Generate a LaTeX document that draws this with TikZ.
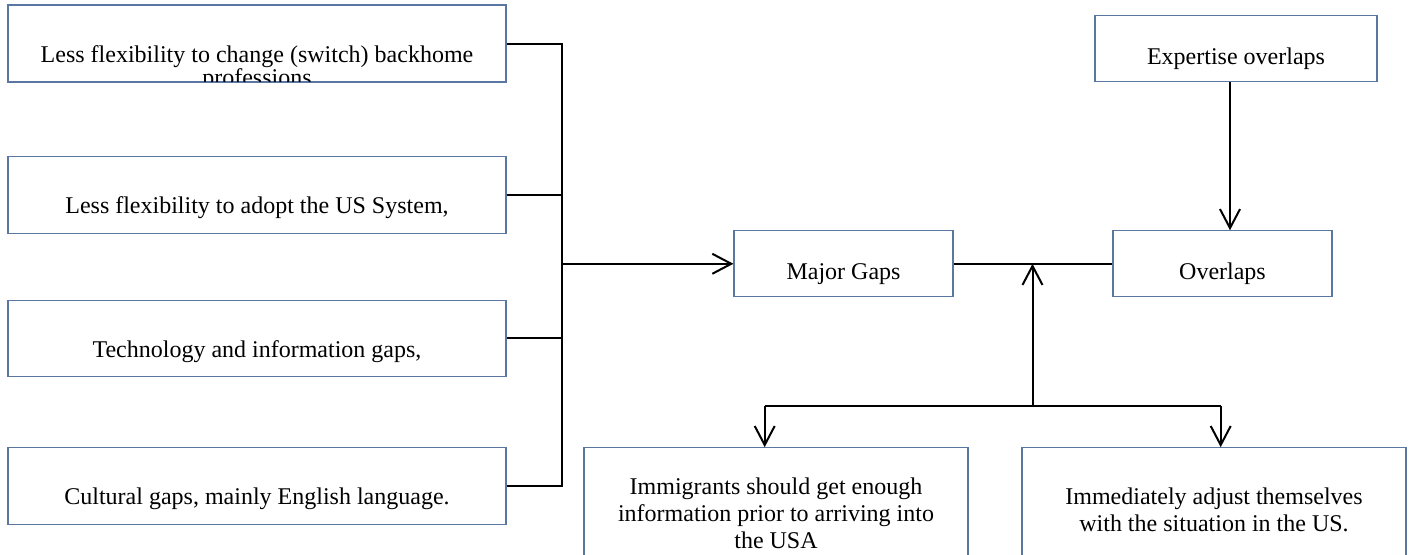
\documentclass[tikz,border=0pt]{standalone}
\usepackage{fontspec}
\setmainfont{Liberation Serif}
\usetikzlibrary{arrows.meta}
\definecolor{boxblue}{RGB}{90,118,163}

\tikzset{
  gapbox/.style={draw=boxblue, line width=0.55pt, fill=white, inner sep=0pt,
    align=flush center, font=\fontsize{12}{13.4}\selectfont, anchor=base},
  leftbox/.style={gapbox, text width=249pt, text height=28.5pt, text depth=9.75pt},
  midbox/.style={gapbox, minimum width=109.5pt, text height=24.6pt, text depth=8.4pt},
  lowbox/.style={gapbox, text width=192pt, text depth=60pt},
  link/.style={line width=1pt},
  linkarrow/.style={link, -{Straight Barb[length=9.5pt,width=10pt]}}
}

\begin{document}
\begin{tikzpicture}[x=0.5pt,y=-0.5pt]
    \useasboundingbox (0,0) rectangle (1410,555);
    \clip (0,0) rectangle (1410,555);

    % left column, the first text runs out of its box
    \begin{scope}
        \clip (0,0) rectangle (600,82.1);
        \node[leftbox] (backhome) at (257,62.3) {Less flexibility to change (switch) backhome\\[-2pt]professions};
    \end{scope}
    \draw[boxblue, line width=0.55pt] (backhome.south west) rectangle (backhome.north east);
    \node[leftbox] (adopt) at (257,213.8) {Less flexibility to adopt the US System,};
    \node[leftbox] (techgap) at (257,357.2) {Technology and information gaps,};
    \node[leftbox] (cultural) at (257,504.8) {Cultural gaps, mainly English language.};

    % middle and right
    \node[midbox] (gaps) at (843.5,280) {Major Gaps};
    \node[midbox] (overlaps) at (1222.5,280) {Overlaps};
    \node[midbox, minimum width=141pt] (expertise) at (1236,64.3) {Expertise overlaps};
    \node[lowbox, text height=23.65pt] (immigrants) at (776,495) {Immigrants should get enough\\information prior to arriving into\\the USA};
    \node[lowbox, text height=28.65pt] (adjust) at (1214,505) {Immediately adjust themselves\\with the situation in the US.};

    % connectors
    \coordinate (bus) at (561.7,0);
    \draw[link] (backhome.east) -- (backhome.east -| bus) -- (cultural.east -| bus) -- (cultural.east);
    \foreach \src in {adopt,techgap}
        \draw[link] (\src.east) -- (\src.east -| bus);
    \draw[linkarrow] (gaps.west -| bus) -- (gaps.west);
    \draw[link] (gaps.east) -- (overlaps.west);

    \coordinate (fork) at (1032.5,405.7);
    \coordinate (forkleft) at (764.7,405.7);
    \coordinate (forkright) at (1220.7,405.7);
    \draw[linkarrow] (fork) -- (fork |- gaps.east);
    \draw[link] (forkleft) -- (forkright);
    \draw[linkarrow] (forkleft) -- (forkleft |- immigrants.north);
    \draw[linkarrow] (forkright) -- (forkright |- adjust.north);

    \coordinate (drop) at ([xshift=-3pt]expertise.south);
    \draw[linkarrow] (drop) -- (drop |- overlaps.north);
\end{tikzpicture}
\end{document}
